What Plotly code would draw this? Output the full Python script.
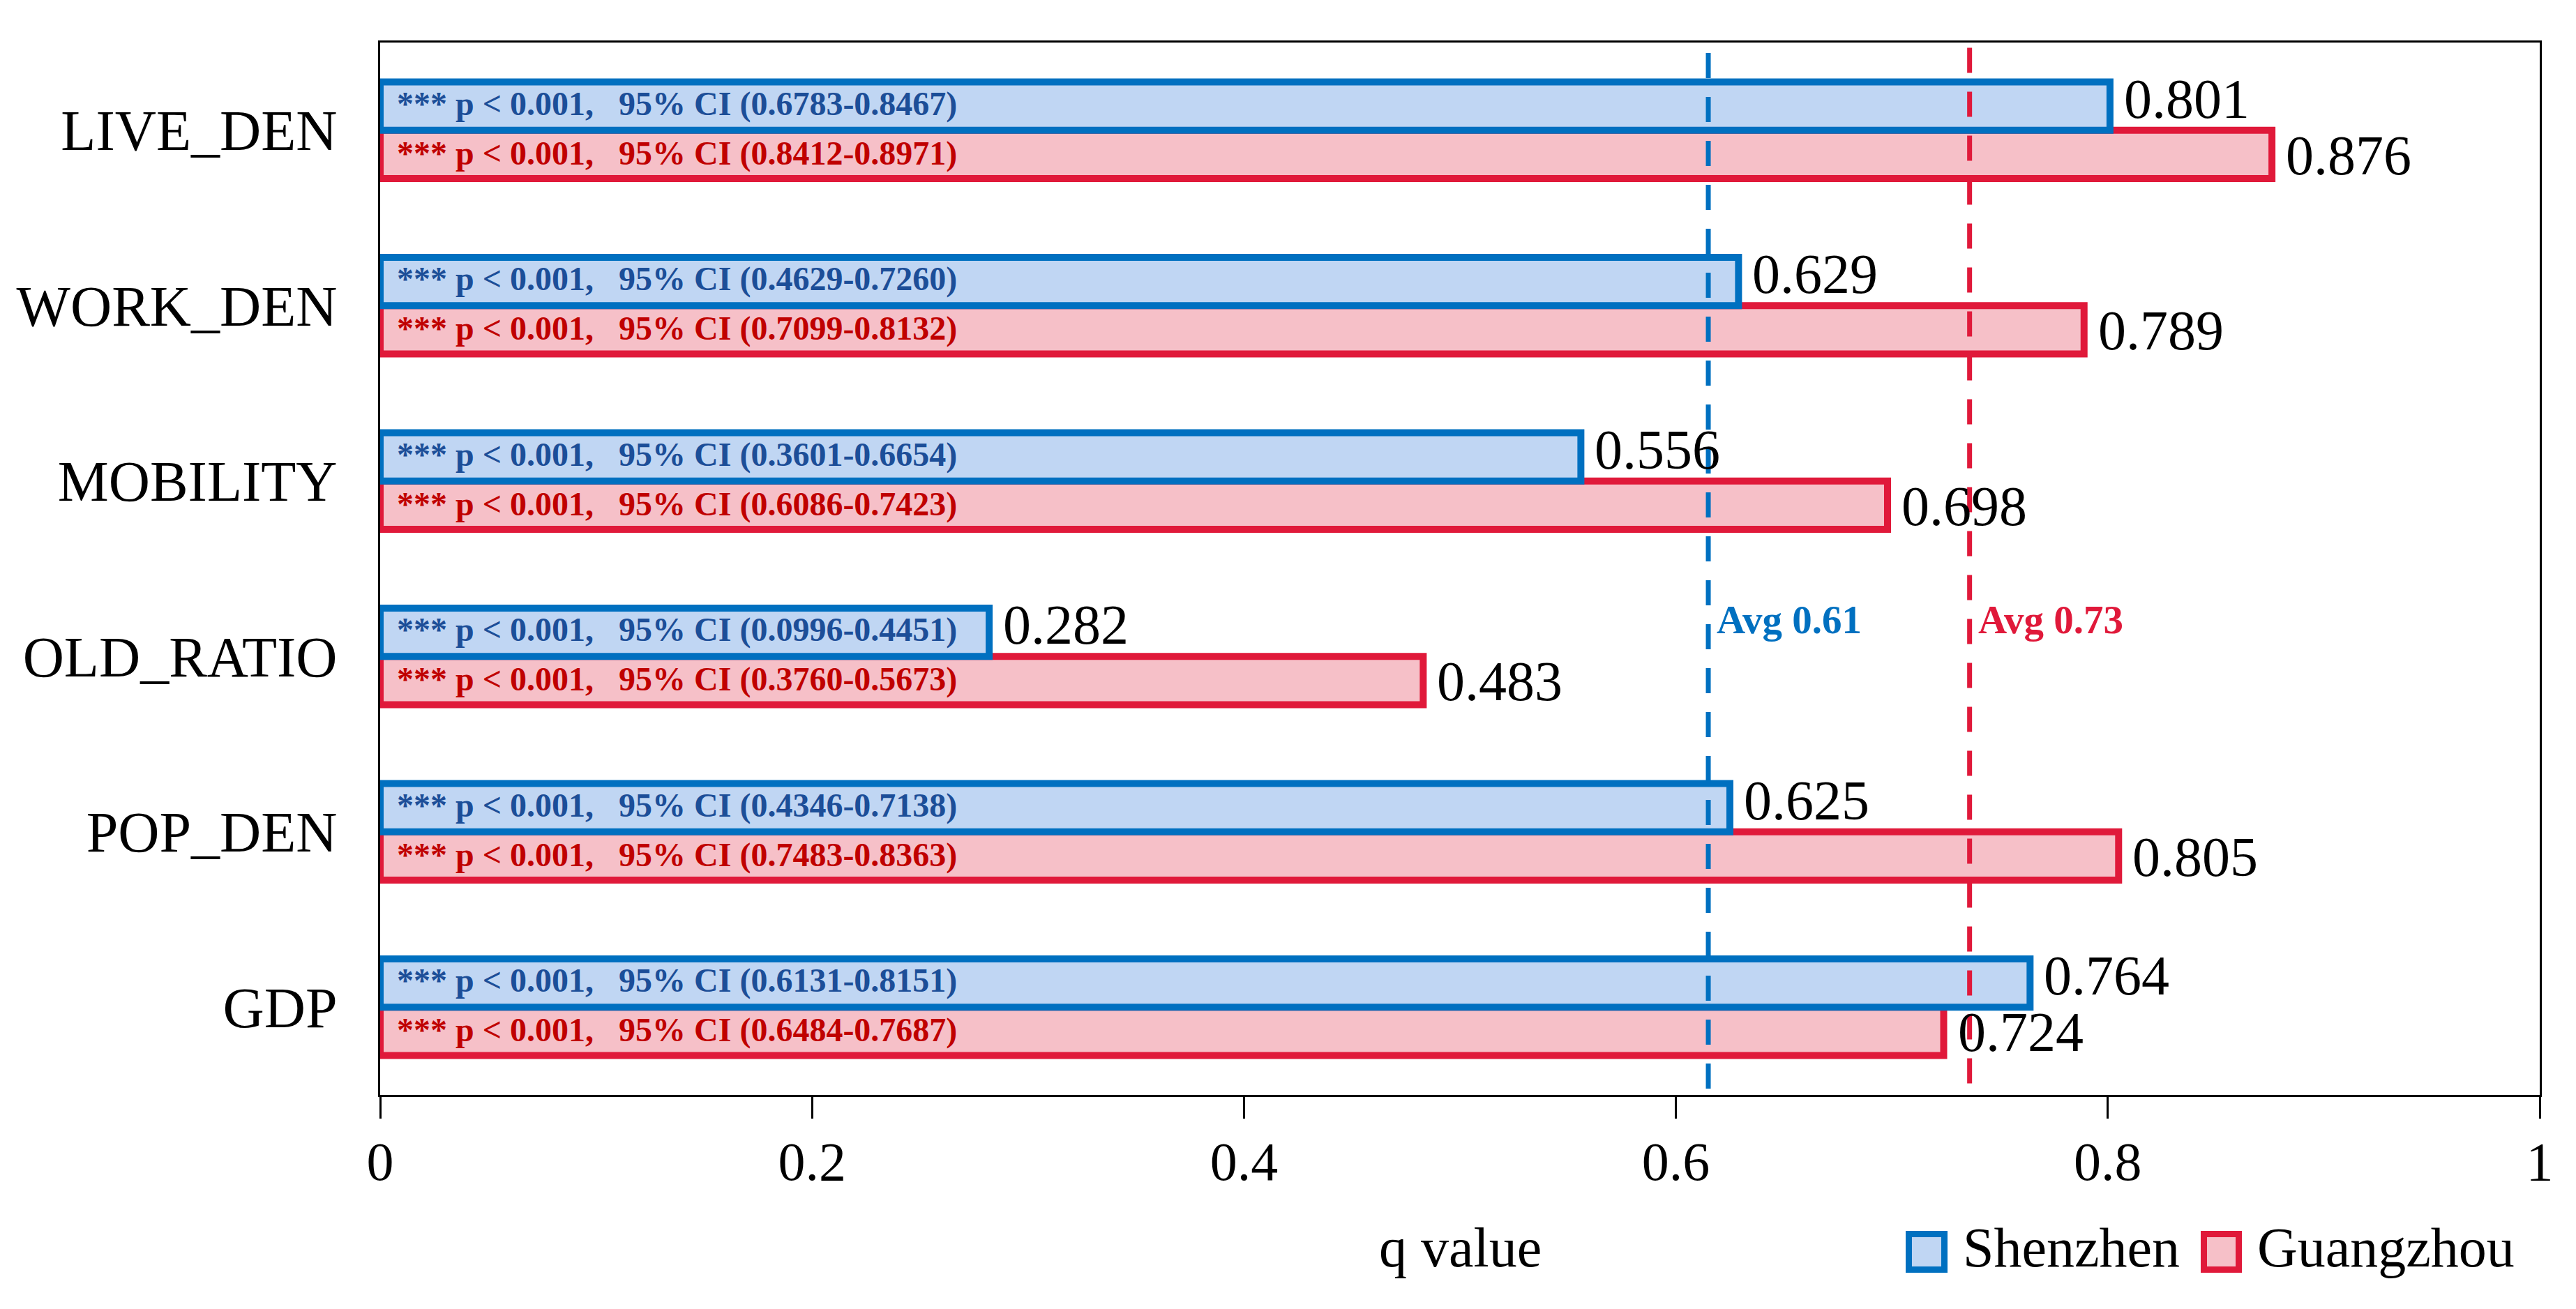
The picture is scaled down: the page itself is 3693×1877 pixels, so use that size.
import plotly.graph_objects as go

# ---------------- data ----------------
categories = ["LIVE_DEN", "WORK_DEN", "MOBILITY", "OLD_RATIO", "POP_DEN", "GDP"]
shenzhen_q = [0.801, 0.629, 0.556, 0.282, 0.625, 0.764]
guangzhou_q = [0.876, 0.789, 0.698, 0.483, 0.805, 0.724]
shenzhen_ci_low = [0.6783, 0.4629, 0.3601, 0.0996, 0.4346, 0.6131]
shenzhen_ci_high = [0.8467, 0.7260, 0.6654, 0.4451, 0.7138, 0.8151]
guangzhou_ci_low = [0.8412, 0.7099, 0.6086, 0.3760, 0.7483, 0.6484]
guangzhou_ci_high = [0.8971, 0.8132, 0.7423, 0.5673, 0.8363, 0.7687]
p_label = "p &lt; 0.001,"
sig_label = "***"
avg_shenzhen = 0.615
avg_guangzhou = 0.736
avg_shenzhen_label = "Avg 0.61"
avg_guangzhou_label = "Avg 0.73"
x_ticks = [0, 0.2, 0.4, 0.6, 0.8, 1.0]
x_ticklabels = ["0", "0.2", "0.4", "0.6", "0.8", "1"]
x_title = "q value"
series_names = ["Shenzhen", "Guangzhou"]

# ---------------- styles ----------------
FONT = "Liberation Serif, Times New Roman, serif"
SZ_LINE = "#0070C0"
SZ_FILL = "#C0D6F3"
SZ_TEXT = "#1C4E98"
GZ_LINE = "#E0193A"
GZ_FILL = "#F6C0C8"
GZ_TEXT = "#C00000"
BAR_W = 0.275

W, H = 3693, 1877
ML, MR, MT, MB = 537, 60, 53, 315
PW = W - ML - MR
PH = H - MT - MB


def px_x(px):
    return (px - ML) / PW


def px_y(py):
    return (H - MB - py) / PH


fig = go.Figure()

# Guangzhou first so Shenzhen borders are drawn on top
fig.add_trace(go.Bar(
    y=categories, x=guangzhou_q, orientation="h", name=series_names[1],
    offset=0, width=BAR_W,
    marker=dict(color=GZ_FILL, line=dict(color=GZ_LINE, width=10)),
    showlegend=False, hoverinfo="x+y",
))
fig.add_trace(go.Bar(
    y=categories, x=shenzhen_q, orientation="h", name=series_names[0],
    offset=-BAR_W, width=BAR_W,
    marker=dict(color=SZ_FILL, line=dict(color=SZ_LINE, width=10)),
    showlegend=False, hoverinfo="x+y",
))

NB = "\u00a0"
annotations = []
for i, cat in enumerate(categories):
    # inside CI texts
    sz_txt = f"<b>{sig_label} {p_label}{NB*3}95% CI ({shenzhen_ci_low[i]:.4f}-{shenzhen_ci_high[i]:.4f})</b>"
    gz_txt = f"<b>{sig_label} {p_label}{NB*3}95% CI ({guangzhou_ci_low[i]:.4f}-{guangzhou_ci_high[i]:.4f})</b>"
    annotations.append(dict(x=0, y=cat, xref="x", yref="y", text=sz_txt, showarrow=False,
                            xanchor="left", yanchor="middle", xshift=22, yshift=38,
                            font=dict(family=FONT, size=48, color=SZ_TEXT)))
    annotations.append(dict(x=0, y=cat, xref="x", yref="y", text=gz_txt, showarrow=False,
                            xanchor="left", yanchor="middle", xshift=22, yshift=-33,
                            font=dict(family=FONT, size=48, color=GZ_TEXT)))
    # value labels
    annotations.append(dict(x=shenzhen_q[i], y=cat, xref="x", yref="y", text=f"{shenzhen_q[i]:.3f}",
                            showarrow=False, xanchor="left", yanchor="middle", xshift=18, yshift=45,
                            font=dict(family=FONT, size=80, color="black")))
    annotations.append(dict(x=guangzhou_q[i], y=cat, xref="x", yref="y", text=f"{guangzhou_q[i]:.3f}",
                            showarrow=False, xanchor="left", yanchor="middle", xshift=18, yshift=-36,
                            font=dict(family=FONT, size=80, color="black")))

# average labels
annotations.append(dict(x=avg_shenzhen, y=px_y(880), xref="x", yref="paper", text=f"<b>{avg_shenzhen_label}</b>",
                        showarrow=False, xanchor="left", yanchor="middle", xshift=10,
                        font=dict(family=FONT, size=57, color=SZ_LINE)))
annotations.append(dict(x=avg_guangzhou, y=px_y(880), xref="x", yref="paper", text=f"<b>{avg_guangzhou_label}</b>",
                        showarrow=False, xanchor="left", yanchor="middle", xshift=10,
                        font=dict(family=FONT, size=57, color=GZ_LINE)))

# x axis title
annotations.append(dict(x=0.5, y=px_y(1781), xref="paper", yref="paper", text=x_title, showarrow=False,
                        xanchor="center", yanchor="middle", font=dict(family=FONT, size=80, color="black")))

# manual legend text
annotations.append(dict(x=px_x(2804), y=px_y(1781), xref="paper", yref="paper", text=series_names[0],
                        showarrow=False, xanchor="left", yanchor="middle",
                        font=dict(family=FONT, size=80, color="black")))
annotations.append(dict(x=px_x(3226), y=px_y(1781), xref="paper", yref="paper", text=series_names[1],
                        showarrow=False, xanchor="left", yanchor="middle",
                        font=dict(family=FONT, size=80, color="black")))

shapes = [
    dict(type="line", xref="x", yref="y domain", x0=avg_shenzhen, x1=avg_shenzhen, y0=0.006, y1=0.995,
         line=dict(color=SZ_LINE, width=7, dash="36px,27px"), layer="above"),
    dict(type="line", xref="x", yref="y domain", x0=avg_guangzhou, x1=avg_guangzhou, y0=0.011, y1=0.995,
         line=dict(color=GZ_LINE, width=7, dash="36px,27px"), layer="above"),
    # legend swatches
    dict(type="rect", xref="paper", yref="paper",
         x0=px_x(2728.5), x1=px_x(2779.5), y0=px_y(1812.5), y1=px_y(1761.5),
         fillcolor=SZ_FILL, line=dict(color=SZ_LINE, width=9)),
    dict(type="rect", xref="paper", yref="paper",
         x0=px_x(3151.5), x1=px_x(3201.5), y0=px_y(1812.5), y1=px_y(1761.5),
         fillcolor=GZ_FILL, line=dict(color=GZ_LINE, width=9)),
]

fig.update_layout(
    width=W, height=H,
    margin=dict(l=ML, r=MR, t=MT, b=MB, pad=0, autoexpand=False),
    paper_bgcolor="white", plot_bgcolor="white",
    barmode="overlay",
    showlegend=False,
    font=dict(family=FONT, color="black"),
    annotations=annotations,
    shapes=shapes,
    xaxis=dict(
        range=[0, 1], tickvals=x_ticks, ticktext=x_ticklabels,
        ticks="outside", ticklen=31, tickwidth=2.5, tickcolor="black",
        showline=True, linewidth=3, linecolor="black", mirror=True,
        showgrid=False, zeroline=False, automargin=False,
        tickfont=dict(family=FONT, size=78, color="black"),
        ticklabelstandoff=-6,
    ),
    yaxis=dict(
        categoryorder="array", categoryarray=categories,
        range=[5.5, -0.5],
        ticks="", showline=True, linewidth=3, linecolor="black", mirror=True,
        showgrid=False, zeroline=False, automargin=False,
        tickfont=dict(family=FONT, size=82, color="black"),
        ticklabelstandoff=42,
    ),
)

fig.write_html("out.html")
